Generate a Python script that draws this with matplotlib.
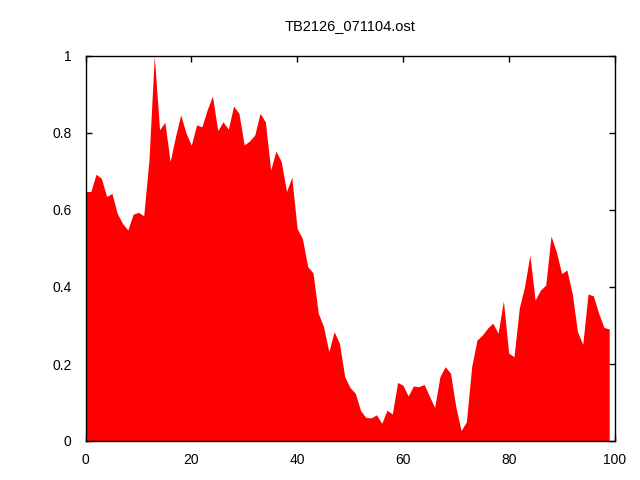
import matplotlib
matplotlib.use("Agg")
import matplotlib.pyplot as plt
import numpy as np

title = "TB2126_071104.ost"
x_values = list(range(100))
y_values = [
    0.648, 0.648, 0.693, 0.682, 0.635, 0.643, 0.591, 0.565, 0.548, 0.589,
    0.594, 0.585, 0.730, 1.000, 0.808, 0.828, 0.726, 0.790, 0.847, 0.800,
    0.768, 0.821, 0.816, 0.860, 0.896, 0.806, 0.829, 0.810, 0.870, 0.851,
    0.769, 0.779, 0.795, 0.851, 0.829, 0.704, 0.753, 0.726, 0.648, 0.685,
    0.552, 0.526, 0.453, 0.437, 0.332, 0.297, 0.232, 0.284, 0.254, 0.167,
    0.139, 0.124, 0.079, 0.061, 0.060, 0.068, 0.046, 0.080, 0.070, 0.152,
    0.145, 0.117, 0.143, 0.141, 0.147, 0.117, 0.087, 0.167, 0.193, 0.176,
    0.089, 0.027, 0.050, 0.193, 0.262, 0.275, 0.293, 0.306, 0.280, 0.364,
    0.228, 0.219, 0.345, 0.401, 0.483, 0.366, 0.392, 0.405, 0.532, 0.492,
    0.435, 0.444, 0.384, 0.284, 0.251, 0.382, 0.377, 0.332, 0.295, 0.291,
]
x_ticks = [0, 20, 40, 60, 80, 100]
y_ticks = [0, 0.2, 0.4, 0.6, 0.8, 1]
y_tick_labels = ["0", "0.2", "0.4", "0.6", "0.8", "1"]

plt.rcParams['font.family'] = ['Liberation Sans', 'DejaVu Sans']

fig = plt.figure(figsize=(6.4, 4.8), dpi=100)
ax = fig.add_axes([85.5 / 640, 1 - 441 / 480, (614.5 - 85.5) / 640, (441 - 56) / 480])

ax.fill_between(x_values, y_values, 0, color="#ff0000", linewidth=0, zorder=2)

ax.set_xlim(0, 100)
ax.set_ylim(0, 1)
ax.set_xticks(x_ticks)
ax.set_xticklabels([str(t) for t in x_ticks])
ax.set_yticks(y_ticks)
ax.set_yticklabels(y_tick_labels)
ax.tick_params(direction="in", length=4.5, width=1, top=True, right=True,
               labelsize=10, colors="black", pad=9)
ax.tick_params(axis="y", pad=10)
for s in ax.spines.values():
    s.set_linewidth(1)
    s.set_zorder(3)

fig.text(350 / 640, 1 - 26 / 480, title, ha="center", va="center", fontsize=10.5)

fig.savefig("out.png", dpi=100)
